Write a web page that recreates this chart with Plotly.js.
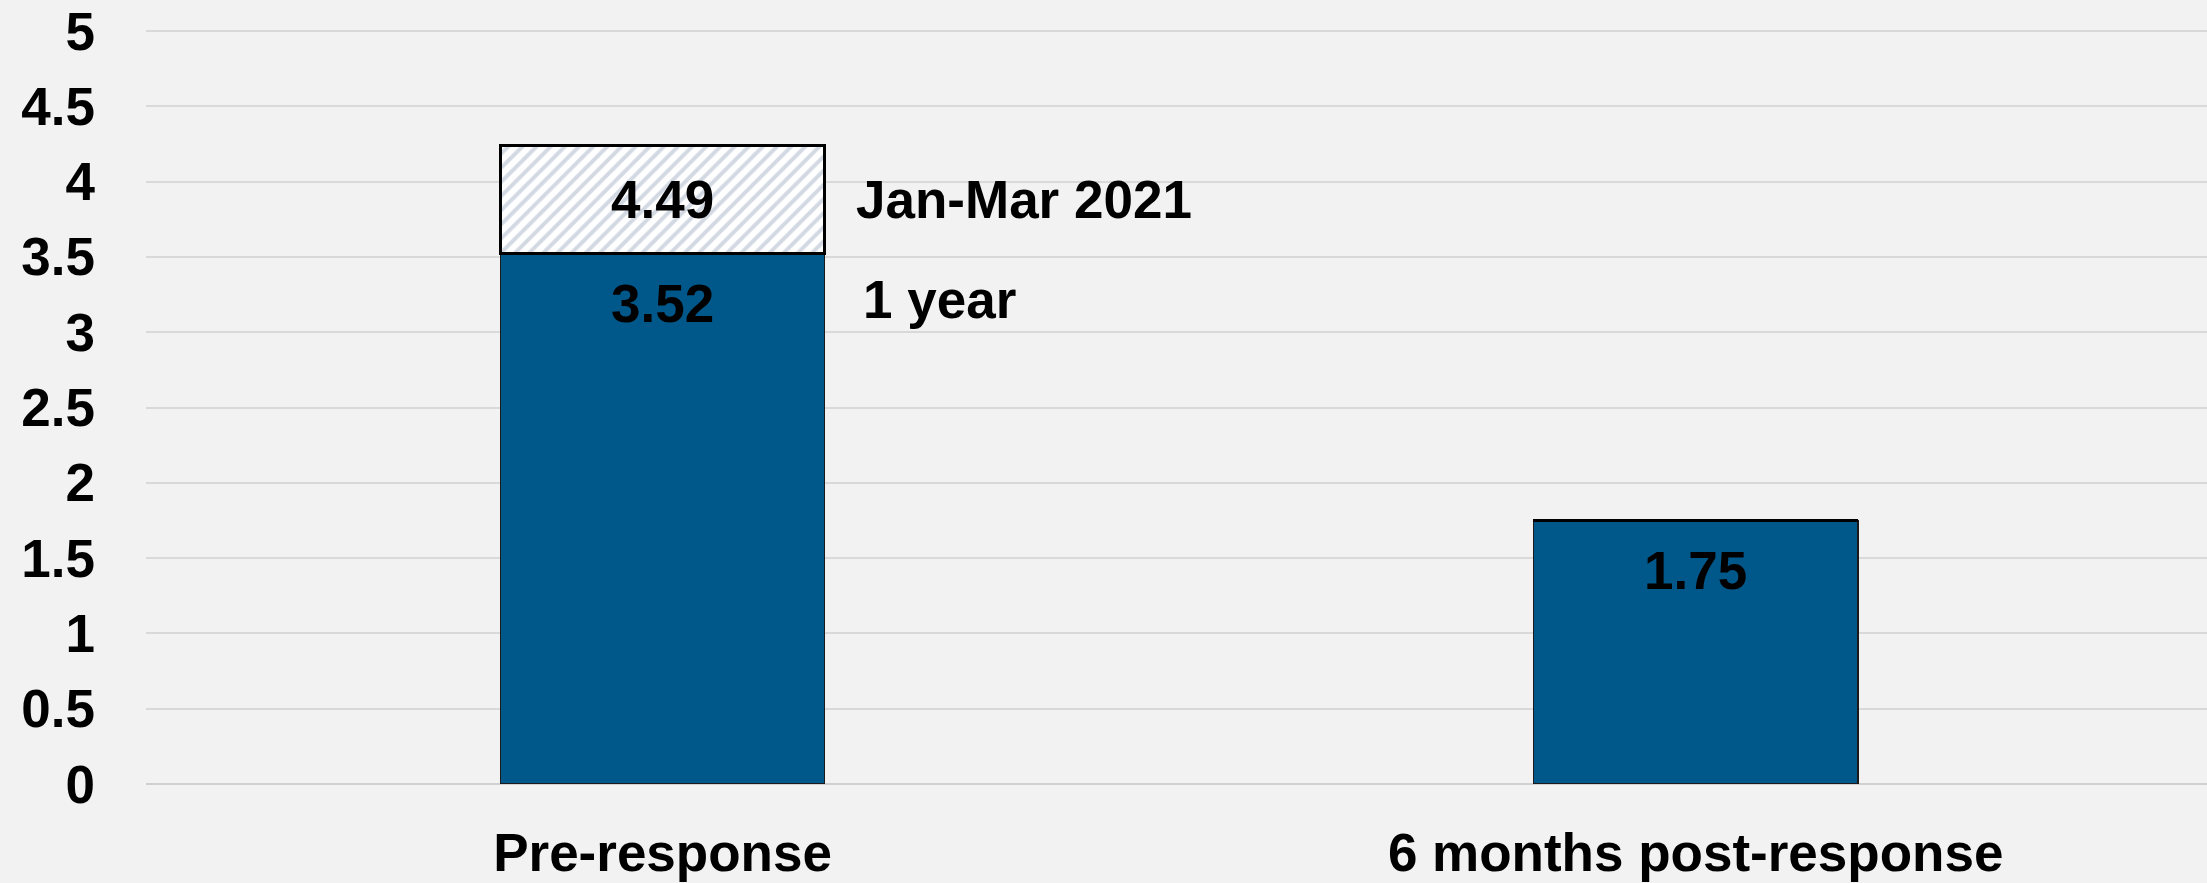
<!DOCTYPE html>
<html>
<head>
<meta charset="utf-8">
<script src="https://cdn.plot.ly/plotly-3.0.1.min.js"></script>
<style>html,body{margin:0;padding:0;background:#f2f2f2;}#chart{width:2207px;height:883px;}</style>
</head>
<body>
<div id="chart"></div>
<script>
// ---- data ----
const categories = ["Pre-response", "6 months post-response"];
const oneYearValues = [3.52, 1.75];
const janMarExtra = [0.72, 0];          // visible height of hatched segment
const janMarLabels = ["4.49", ""];      // label printed on hatched segment
const oneYearLabels = ["3.52", "1.75"];
const seriesNames = ["1 year", "Jan-Mar 2021"];
const yTicks = [0, 0.5, 1, 1.5, 2, 2.5, 3, 3.5, 4, 4.5, 5];

const FONT = {family: "Liberation Sans, Arial, sans-serif", size: 53, color: "#000000", weight: "bold"};
const BLUE = "#00578A";

const traces = [
  {
    type: "bar", x: categories, y: oneYearValues, name: seriesNames[0],
    marker: {color: BLUE, line: {color: "#1a1a1a", width: 1.5}},
    hoverinfo: "skip"
  },
  {
    type: "bar", x: categories, y: janMarExtra, name: seriesNames[1],
    marker: {
      color: "#ffffff",
      pattern: {shape: "/", bgcolor: "#ffffff", fgcolor: "#d3d9e3", size: 10, solidity: 0.4},
      line: {color: "#000000", width: 3}
    },
    hoverinfo: "skip"
  }
];

const annotations = [];
categories.forEach((c, i) => {
  annotations.push({x: c, y: oneYearValues[i], xref: "x", yref: "y", text: oneYearLabels[i],
    showarrow: false, yanchor: "middle", yshift: -50, font: FONT});
  if (janMarExtra[i] > 0) {
    annotations.push({x: c, y: oneYearValues[i] + janMarExtra[i] / 2, xref: "x", yref: "y",
      text: janMarLabels[i], showarrow: false, yanchor: "middle", font: FONT});
    annotations.push({x: c, y: oneYearValues[i] + janMarExtra[i] / 2, xref: "x", yref: "y",
      text: seriesNames[1], showarrow: false, xanchor: "left", yanchor: "middle", xshift: 191, font: FONT});
    annotations.push({x: c, y: oneYearValues[i], xref: "x", yref: "y",
      text: seriesNames[0], showarrow: false, xanchor: "left", yanchor: "middle", xshift: 198, yshift: -46, font: FONT});
  }
});

const layout = {
  width: 2207, height: 883,
  paper_bgcolor: "#f2f2f2", plot_bgcolor: "#f2f2f2",
  margin: {l: 146, r: 0, t: 28, b: 98.5},
  barmode: "stack", bargap: 0.686,
  showlegend: false,
  font: FONT,
  xaxis: {
    type: "category", range: [-0.5, 1.495], showgrid: false, zeroline: false, showline: false,
    ticks: "", ticklabelstandoff: 33, tickfont: FONT
  },
  yaxis: {
    range: [0, 5.02], tickvals: yTicks, ticktext: yTicks.map(String),
    showgrid: true, gridcolor: "#d9d9d9", gridwidth: 2,
    zeroline: true, zerolinecolor: "#d0d0d0", zerolinewidth: 2,
    showline: false, ticks: "", ticklabelstandoff: 50, tickfont: FONT
  },
  annotations: annotations
};

Plotly.newPlot("chart", traces, layout, {staticPlot: true, displayModeBar: false});
</script>
</body>
</html>
